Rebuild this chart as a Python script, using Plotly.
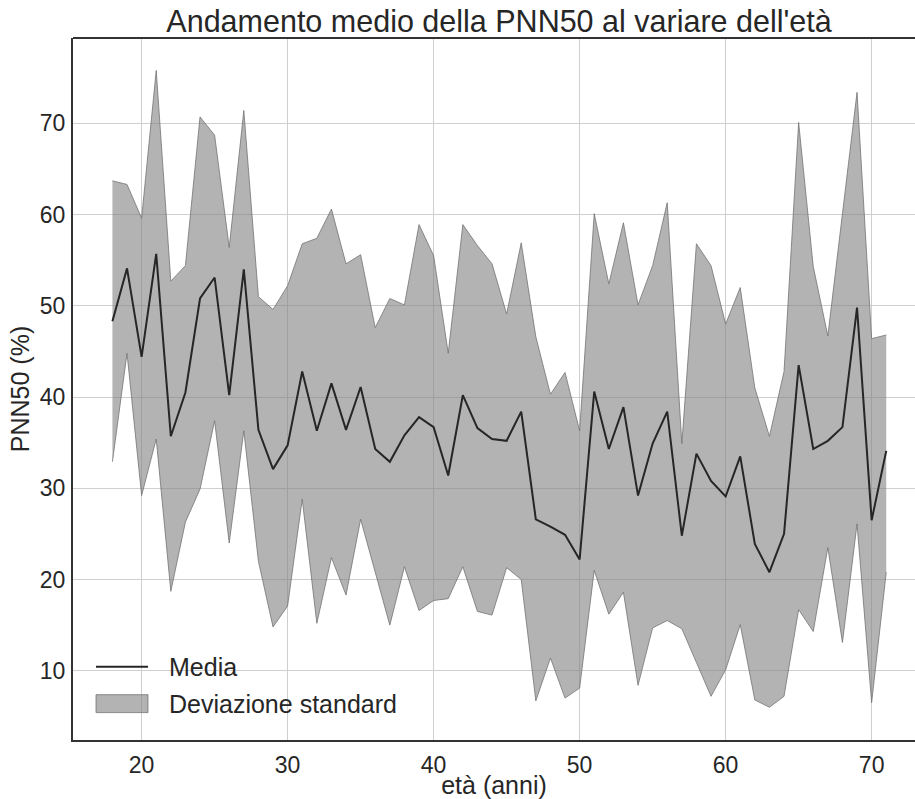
import plotly.graph_objects as go

ages = list(range(18, 72))

media = [48.3, 54.1, 44.4, 55.7, 35.7, 40.5, 50.8, 53.1, 40.2, 54.0,
         36.4, 32.1, 34.7, 42.8, 36.3, 41.5, 36.4, 41.1, 34.3, 32.9,
         35.8, 37.8, 36.7, 31.4, 40.2, 36.6, 35.4, 35.2, 38.4, 26.6,
         25.8, 24.9, 22.2, 40.6, 34.3, 38.9, 29.2, 34.9, 38.4, 24.8,
         33.8, 30.8, 29.1, 33.5, 23.9, 20.8, 25.0, 43.5, 34.3, 35.2,
         36.7, 49.8, 26.5, 34.1]

superiore = [63.7, 63.3, 59.6, 75.8, 52.7, 54.4, 70.7, 68.7, 56.4, 71.4,
             51.0, 49.6, 52.2, 56.8, 57.4, 60.6, 54.6, 55.6, 47.6, 50.8,
             50.1, 58.9, 55.5, 44.8, 58.9, 56.6, 54.6, 49.1, 56.9, 46.6,
             40.3, 42.7, 36.3, 60.1, 52.4, 59.1, 50.1, 54.4, 61.3, 34.9,
             56.8, 54.4, 48.0, 52.0, 41.0, 35.7, 42.8, 70.1, 54.3, 46.7,
             60.1, 73.4, 46.4, 46.8]

inferiore = [32.9, 44.8, 29.2, 35.4, 18.7, 26.3, 29.9, 37.4, 24.0, 36.3,
             22.0, 14.8, 17.1, 28.8, 15.2, 22.4, 18.3, 26.6, 20.8, 15.0,
             21.4, 16.6, 17.7, 17.9, 21.4, 16.5, 16.1, 21.3, 20.0, 6.7,
             11.4, 7.0, 8.1, 21.0, 16.2, 18.6, 8.4, 14.7, 15.5, 14.6,
             10.9, 7.2, 10.1, 15.05, 6.8, 6.0, 7.2, 16.7, 14.3, 23.5,
             13.1, 26.1, 6.5, 20.8]

x_ticks = [20, 30, 40, 50, 60, 70]
y_ticks = [10, 20, 30, 40, 50, 60, 70]
legend_labels = ["Media", "Deviazione standard"]

FONT = "Liberation Sans, Arial, sans-serif"
TXT = "#262626"
FILL = "rgba(128,128,128,0.6)"
EDGE = "rgba(110,110,110,0.75)"

# plot area geometry (pixels)
L, T, W, H = 73, 38, 842, 705


def px(x):
    return (x - L) / W


def py(y):
    return (T + H - y) / H


fig = go.Figure()

fig.add_trace(go.Scatter(
    x=ages, y=inferiore, mode="lines",
    line=dict(color=EDGE, width=1),
    showlegend=False, hoverinfo="skip"))

fig.add_trace(go.Scatter(
    x=ages, y=superiore, mode="lines", fill="tonexty",
    fillcolor=FILL, line=dict(color=EDGE, width=1),
    name=legend_labels[1], showlegend=False))

fig.add_trace(go.Scatter(
    x=ages, y=media, mode="lines",
    line=dict(color="#262626", width=2),
    name=legend_labels[0], showlegend=False))

shapes = [
    dict(type="line", xref="paper", yref="paper", x0=0, x1=1,
         y0=1, y1=1, line=dict(color="#333333", width=2)),
    # legend: line sample
    dict(type="line", xref="paper", yref="paper",
         x0=px(96), x1=px(148), y0=py(669.5), y1=py(669.5),
         line=dict(color="#262626", width=2)),
    # legend: patch
    dict(type="rect", xref="paper", yref="paper",
         x0=px(96), x1=px(148), y0=py(715.5), y1=py(697.5),
         fillcolor=FILL, line=dict(color=EDGE, width=1)),
]

annotations = [
    dict(text=legend_labels[0], xref="paper", yref="paper",
         x=px(167), y=py(670), xanchor="left", yanchor="middle",
         showarrow=False, font=dict(size=25, color=TXT, family=FONT)),
    dict(text=legend_labels[1], xref="paper", yref="paper",
         x=px(167), y=py(706.5), xanchor="left", yanchor="middle",
         showarrow=False, font=dict(size=25, color=TXT, family=FONT)),
]

fig.update_layout(
    width=915, height=799,
    margin=dict(l=L, r=915 - L - W, t=T, b=799 - T - H),
    paper_bgcolor="white", plot_bgcolor="white",
    font=dict(family=FONT, color=TXT, size=23),
    title=dict(text="Andamento medio della PNN50 al variare dell'età",
               font=dict(size=30.5, color=TXT, family=FONT),
               x=px(499), xref="paper", xanchor="center",
               y=1 - 21 / 799, yref="container", yanchor="middle"),
    showlegend=False,
    xaxis=dict(range=[15.3, 72.97], tickvals=x_ticks, showgrid=True,
               gridcolor="#cfcfcf", gridwidth=1, zeroline=False,
               showline=True, linecolor="#333333", linewidth=2,
               ticks="", tickfont=dict(size=23), ticklabelstandoff=3,
               title=dict(text="età (anni)", font=dict(size=25), standoff=4)),
    yaxis=dict(range=[2.41, 79.35], tickvals=y_ticks, showgrid=True,
               gridcolor="#cfcfcf", gridwidth=1, zeroline=False,
               showline=True, linecolor="#333333", linewidth=2,
               ticks="", tickfont=dict(size=23), ticklabelstandoff=1,
               title=dict(text="PNN50 (%)", font=dict(size=25), standoff=3)),
    shapes=shapes,
    annotations=annotations,
)

fig.write_html("out.html")
